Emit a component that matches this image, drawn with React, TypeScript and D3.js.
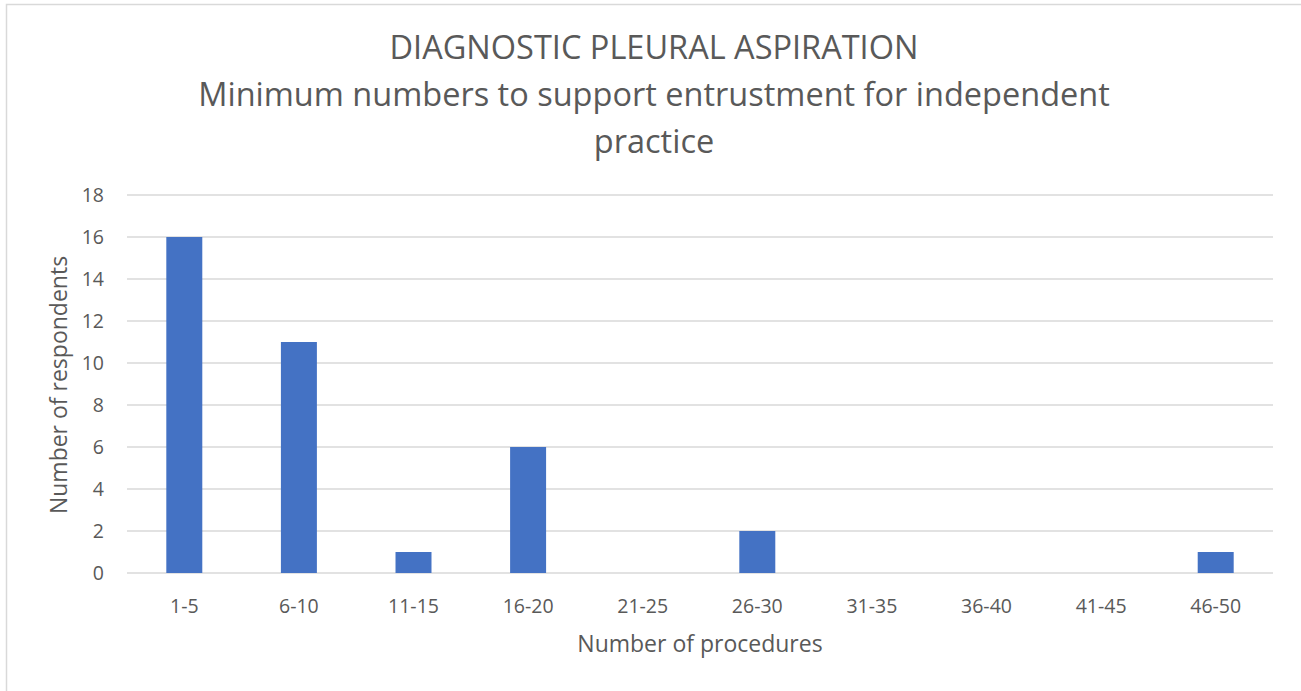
import * as d3 from "d3";
import React from "react";

const categories = ["1-5", "6-10", "11-15", "16-20", "21-25", "26-30", "31-35", "36-40", "41-45", "46-50"];
const respondents = [16, 11, 1, 6, 0, 2, 0, 0, 0, 1];
const yTicks = [0, 2, 4, 6, 8, 10, 12, 14, 16, 18];
const titleLines = ["DIAGNOSTIC PLEURAL ASPIRATION", "Minimum numbers to support entrustment for independent", "practice"];

const W = 1301;
const H = 691;
const margin = { left: 127, right: 28, top: 195, bottom: 118 };
const font = "'Open Sans', sans-serif";
const textColor = "#595959";

export default function App() {
  const x = d3
    .scaleBand<string>()
    .domain(categories)
    .range([margin.left, W - margin.right])
    .paddingInner(0.686)
    .paddingOuter(0.343);
  const y = d3.scaleLinear().domain([0, 18]).range([H - margin.bottom, margin.top]);

  return (
    <svg width={W} height={H} style={{ position: "absolute", left: 0, top: 0, fontFamily: font }}>
      <rect x={0} y={0} width={W} height={H} fill="#fff" />
      <rect x={6.5} y={4.5} width={W + 10} height={H + 10} fill="none" stroke="#d9d9d9" strokeWidth={1.5} />
      <g>
        {titleLines.map((t, i) => (
          <text key={i} x={654} y={59 + i * 47} textAnchor="middle" fontSize={32.5} fill={textColor}>
            {t}
          </text>
        ))}
      </g>
      <g>
        {yTicks.map((t) => (
          <g key={t}>
            <line x1={margin.left} x2={W - margin.right} y1={y(t)} y2={y(t)} stroke="#d9d9d9" strokeWidth={1.5} />
            <text x={104} y={y(t)} dy="0.36em" textAnchor="end" fontSize={19.5} fill={textColor}>
              {t}
            </text>
          </g>
        ))}
      </g>
      <g>
        {categories.map((c, i) => (
          <g key={c}>
            {respondents[i] > 0 && (
              <rect
                x={x(c)}
                y={y(respondents[i])}
                width={x.bandwidth()}
                height={y(0) - y(respondents[i])}
                fill="#4472C4"
              />
            )}
            <text x={(x(c) ?? 0) + x.bandwidth() / 2} y={613} textAnchor="middle" fontSize={19.5} fill={textColor}>
              {c}
            </text>
          </g>
        ))}
      </g>
      <text x={700} y={652} textAnchor="middle" fontSize={23} fill={textColor}>
        Number of procedures
      </text>
      <text transform={`translate(67,385) rotate(-90)`} textAnchor="middle" fontSize={23} fill={textColor}>
        Number of respondents
      </text>
    </svg>
  );
}
